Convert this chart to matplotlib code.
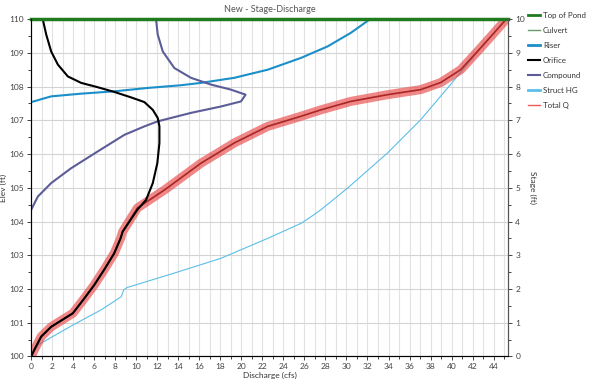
import matplotlib.pyplot as plt
from matplotlib.lines import Line2D

plt.rcParams['font.family'] = ['Lato', 'DejaVu Sans']

# values (elevation in ft, discharge in cfs)
pond_top = 110.0
q_max = 45.4

total_elev = [100.0, 100.2, 100.59, 100.88, 101.28, 101.7, 102.12, 102.6, 103.06, 103.5, 103.7,
              104.4, 104.94, 105.73, 106.33, 106.82, 107.12, 107.31, 107.56,
              107.76, 107.91, 108.12, 108.5, 109.04, 109.59, 109.98]
total_q = [0.0, 0.3, 0.95, 1.9, 3.96, 5.0, 6.0, 7.0, 7.9, 8.5, 8.7,
           10.1, 12.7, 16.16, 19.33, 22.5, 25.67, 27.57, 30.4,
           33.9, 37.07, 38.97, 40.87, 42.46, 44.04, 45.15]

orifice_elev = [100.0, 100.2, 100.59, 100.88, 101.28, 101.7, 102.12, 102.6, 103.06, 103.5, 103.7,
                104.35, 104.64, 105.14, 105.73, 106.33, 106.82, 107.07, 107.31, 107.54, 107.68,
                107.84, 107.98, 108.11, 108.30, 108.65, 109.04, 109.54, 109.98]
orifice_q = [0.0, 0.3, 0.95, 1.9, 3.96, 5.0, 6.0, 7.0, 7.9, 8.5, 8.7,
             10.1, 10.93, 11.57, 12.0, 12.2, 12.2, 12.04, 11.57, 10.77, 9.5,
             7.92, 6.34, 4.75, 3.49, 2.54, 1.9, 1.43, 1.11]

compound_elev = [104.35, 104.74, 105.14, 105.58, 106.08, 106.57, 106.82, 106.97, 107.22, 107.41,
                 107.56, 107.76, 107.91, 108.06, 108.26, 108.55, 109.04, 109.54, 109.98]
compound_q = [0.0, 0.63, 1.9, 3.8, 6.34, 8.87, 10.77, 12.04, 15.2, 18.06,
              19.96, 20.4, 19.0, 17.1, 15.2, 13.62, 12.52, 12.04, 11.88]

riser_elev = [107.54, 107.71, 107.79, 107.86, 107.96, 108.04, 108.11, 108.26, 108.5, 108.85,
              109.19, 109.59, 109.98]
riser_q = [0.0, 1.9, 4.75, 7.92, 11.1, 14.26, 16.16, 19.33, 22.5, 25.67,
           28.2, 30.4, 32.16]

struct_elev = [100.0, 100.34, 100.93, 101.38, 101.77, 101.97, 102.04, 102.47, 102.91, 103.5,
               103.95, 104.2, 104.35, 104.99, 106.03, 107.02, 108.06, 108.85, 109.04, 109.59,
               109.98]
struct_q = [0.0, 0.63, 3.96, 6.65, 8.56, 8.8, 9.1, 13.6, 18.06, 22.5,
            25.7, 26.9, 27.57, 30.1, 33.9, 37.07, 39.9, 42.0, 42.46, 44.04,
            45.15]

culvert_elev = []
culvert_q = []

fig = plt.figure(figsize=(5.89, 3.90), dpi=100)
ax = fig.add_axes([0.053, 0.086, 0.81, 0.865])

# total Q: glow plus darker centre
ax.plot(total_q, total_elev, color='#e94848', lw=6.5, alpha=0.65, solid_capstyle='butt',
        solid_joinstyle='round', zorder=2)
ax.plot(total_q, total_elev, color='#a82626', lw=1.2, zorder=2.1)
ax.plot(struct_q, struct_elev, color='#5bbfe8', lw=0.8, zorder=1.9)
ax.plot(riser_q, riser_elev, color='#1a8fc9', lw=1.5, zorder=3)
ax.plot(compound_q, compound_elev, color='#5c5c98', lw=1.5, zorder=3)
ax.plot(orifice_q, orifice_elev, color='black', lw=1.5, zorder=3.5)
ax.plot(culvert_q, culvert_elev, color='#6a9a6a', lw=1, zorder=3)
ax.plot([0, q_max], [pond_top, pond_top], color='#1e7b1e', lw=2.5, zorder=4, clip_on=False)

ax.set_xlim(0, q_max)
ax.set_ylim(100, 110)
ax.set_xticks(range(0, 45, 2))
ax.set_xticks(range(0, 46), minor=True)
ax.set_yticks(range(100, 111))
ax.set_yticks([100 + 0.5 * i for i in range(21)], minor=True)
ax.grid(True, which='major', axis='y', color='#d4d4d4', lw=0.8)
ax.grid(True, which='both', axis='x', color='#e2e2e2', lw=0.8)
ax.set_axisbelow(True)
ax.tick_params(axis='both', which='both', labelsize=6, colors='#444444', length=3, width=0.7, pad=2)
ax.tick_params(axis='both', which='minor', length=2)
for s in ['left', 'bottom', 'right']:
    ax.spines[s].set_color('#555555')
ax.spines['top'].set_visible(False)

ax.set_xlabel('Discharge (cfs)', fontsize=6, color='#333333', labelpad=1)
ax.set_ylabel('Elev (ft)', fontsize=6, color='#333333', labelpad=2)
ax.set_title('New - Stage-Discharge', fontsize=6.5, color='#555555', pad=5)

ax2 = ax.twinx()
ax2.set_ylim(0, 10)
ax2.set_yticks(range(0, 11))
ax2.set_yticks([0.5 * i for i in range(21)], minor=True)
ax2.tick_params(axis='y', which='both', labelsize=6, colors='#444444', length=3, width=0.7, pad=2)
ax2.tick_params(axis='y', which='minor', length=2)
ax2.spines['right'].set_color('#555555')
ax2.spines['top'].set_visible(False)
ax2.set_ylabel('Stage (ft)', fontsize=6, color='#333333', rotation=270, labelpad=8)

handles = [
    Line2D([], [], color='#1e7b1e', lw=2),
    Line2D([], [], color='#6a9a6a', lw=1),
    Line2D([], [], color='#1a8fc9', lw=2),
    Line2D([], [], color='black', lw=1.5),
    Line2D([], [], color='#5c5c98', lw=1.5),
    Line2D([], [], color='#5bbfe8', lw=2),
    Line2D([], [], color='#ec5a5a', lw=1),
]
labels = ['Top of Pond', 'Culvert', 'Riser', 'Orifice', 'Compound', 'Struct HG', 'Total Q']
ax2.legend(handles, labels, loc='upper left', bbox_to_anchor=(1.035, 1.03), frameon=False,
           fontsize=5.7, handlelength=1.5, handletextpad=0.38, labelspacing=1.0, borderaxespad=0,
           labelcolor='#333333')

plt.savefig('out.png', dpi=100)
